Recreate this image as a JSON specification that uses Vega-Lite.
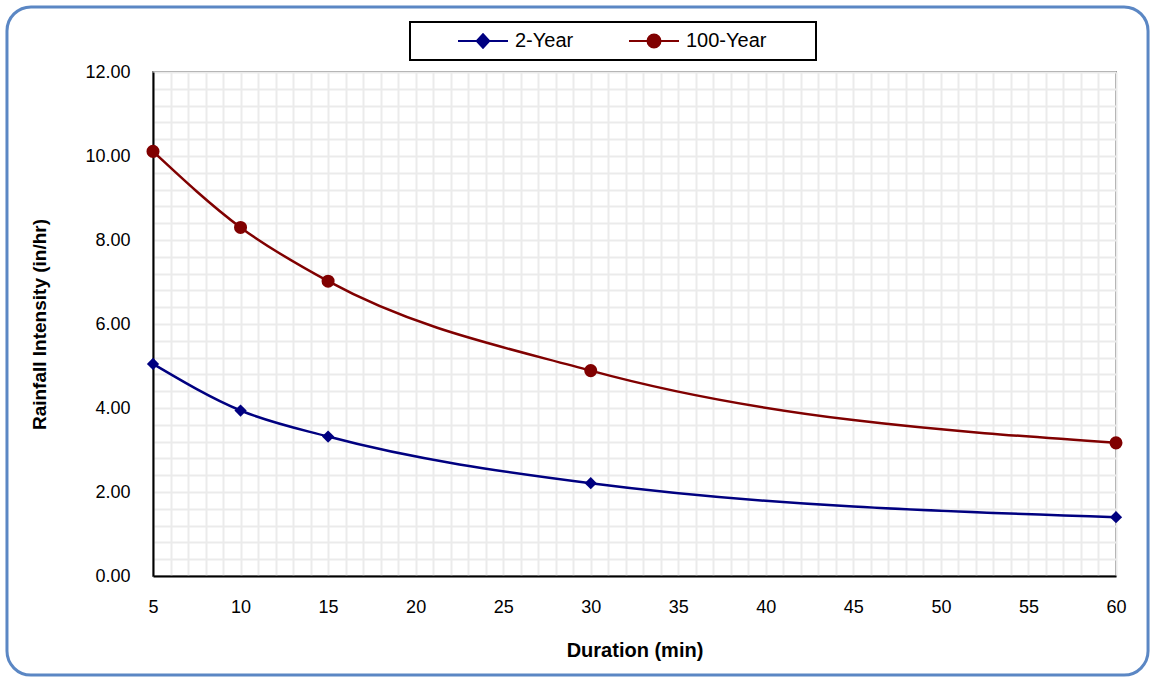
{
  "$schema": "https://vega.github.io/schema/vega-lite/v6.json",
  "width": 963,
  "height": 504,
  "autosize": {"type": "none"},
  "padding": {"left": 153, "top": 72, "right": 35, "bottom": 101},
  "background": "white",
  "config": {
    "view": {"stroke": "#808080", "strokeWidth": 2},
    "font": "Liberation Sans",
    "axis": {
      "grid": true,
      "gridColor": "#ebebeb",
      "gridWidth": 2,
      "ticks": false,
      "domainColor": "black",
      "domainWidth": 2,
      "labelFont": "Liberation Sans",
      "labelFontSize": 18,
      "labelColor": "black",
      "labelFlush": false,
      "labelOverlap": false,
      "titleFont": "Liberation Sans",
      "titleFontWeight": "bold",
      "titleColor": "black"
    }
  },
  "data": {
    "values": [
      {"duration": 5, "intensity": 5.05, "series": "2-Year"},
      {"duration": 10, "intensity": 3.94, "series": "2-Year"},
      {"duration": 15, "intensity": 3.32, "series": "2-Year"},
      {"duration": 30, "intensity": 2.21, "series": "2-Year"},
      {"duration": 60, "intensity": 1.40, "series": "2-Year"},
      {"duration": 5, "intensity": 10.11, "series": "100-Year"},
      {"duration": 10, "intensity": 8.30, "series": "100-Year"},
      {"duration": 15, "intensity": 7.02, "series": "100-Year"},
      {"duration": 30, "intensity": 4.89, "series": "100-Year"},
      {"duration": 60, "intensity": 3.17, "series": "100-Year"}
    ]
  },
  "layer": [
    {
      "data": {"values": [{"frame": "outer"}]},
      "mark": {"type": "rect", "fill": null, "stroke": "#5b87c4", "strokeWidth": 3, "cornerRadius": 24, "clip": false},
      "encoding": {
        "x": {
          "datum": -3.34, "type": "quantitative",
          "scale": {"domain": [5, 60], "nice": false, "zero": false},
          "axis": {
            "title": "Duration (min)",
            "values": [5,6,7,8,9,10,11,12,13,14,15,16,17,18,19,20,21,22,23,24,25,26,27,28,29,30,31,32,33,34,35,36,37,38,39,40,41,42,43,44,45,46,47,48,49,50,51,52,53,54,55,56,57,58,59,60],
            "tickCount": 200,
            "format": "d",
            "labelExpr": "datum.value % 5 === 0 ? datum.label : ''",
            "labelPadding": 22,
            "titleFontSize": 20,
            "titlePadding": 24
          }
        },
        "x2": {"datum": 61.83},
        "y": {
          "datum": 13.55, "type": "quantitative",
          "scale": {"domain": [0, 12], "nice": false},
          "axis": {
            "title": "Rainfall Intensity (in/hr)",
            "values": [0,0.4,0.8,1.2,1.6,2,2.4,2.8,3.2,3.6,4,4.4,4.8,5.2,5.6,6,6.4,6.8,7.2,7.6,8,8.4,8.8,9.2,9.6,10,10.4,10.8,11.2,11.6,12],
            "tickCount": 200,
            "format": ".2f",
            "labelExpr": "abs(datum.value / 2 - round(datum.value / 2)) < 0.001 ? datum.label : ''",
            "labelPadding": 23,
            "titleFontSize": 19,
            "titlePadding": 35
          }
        },
        "y2": {"datum": -2.36}
      }
    },
    {
      "mark": {"type": "line", "interpolate": "monotone", "strokeWidth": 2.5},
      "encoding": {
        "x": {
          "field": "duration",
          "type": "quantitative",
          "axis": {
            "title": "Duration (min)",
            "values": [5,6,7,8,9,10,11,12,13,14,15,16,17,18,19,20,21,22,23,24,25,26,27,28,29,30,31,32,33,34,35,36,37,38,39,40,41,42,43,44,45,46,47,48,49,50,51,52,53,54,55,56,57,58,59,60],
            "tickCount": 200,
            "format": "d",
            "labelExpr": "datum.value % 5 === 0 ? datum.label : ''",
            "labelPadding": 22,
            "titleFontSize": 20,
            "titlePadding": 24
          }
        },
        "y": {
          "field": "intensity",
          "type": "quantitative",
          "axis": {
            "title": "Rainfall Intensity (in/hr)",
            "values": [0,0.4,0.8,1.2,1.6,2,2.4,2.8,3.2,3.6,4,4.4,4.8,5.2,5.6,6,6.4,6.8,7.2,7.6,8,8.4,8.8,9.2,9.6,10,10.4,10.8,11.2,11.6,12],
            "tickCount": 200,
            "format": ".2f",
            "labelExpr": "abs(datum.value / 2 - round(datum.value / 2)) < 0.001 ? datum.label : ''",
            "labelPadding": 23,
            "titleFontSize": 19,
            "titlePadding": 35
          }
        },
        "color": {
          "field": "series",
          "type": "nominal",
          "scale": {"domain": ["2-Year", "100-Year"], "range": ["#000080", "#800000"]},
          "legend": {
            "title": "\u00a0",
            "titleOrient": "right",
            "titlePadding": 41,
            "titleFontSize": 20,
            "orient": "none",
            "direction": "horizontal",
            "legendX": 257,
            "legendY": -50,
            "padding": 9,
            "clipHeight": 20,
            "strokeColor": "black",
            "fillColor": "white",
            "symbolSize": 2500,
            "symbolType": "M-1,0H1M0.25,0A0.25,0.25,0,1,1,-0.25,0A0.25,0.25,0,1,1,0.25,0Z",
            "symbolStrokeWidth": 2,
            "symbolOffset": 38,
            "labelOffset": 6,
            "columnPadding": 16,
            "labelFont": "Liberation Sans",
            "labelFontSize": 20,
            "labelColor": "black",
            "encode": {
              "legend": {"update": {"strokeWidth": {"value": 2}}},
              "symbols": {
                "update": {
                  "shape": {"signal": "datum.value === '2-Year' ? 'M-1,0H1M0,-0.27L0.25,0L0,0.27L-0.25,0Z' : 'M-1,0H1M0.26,0A0.26,0.26,0,1,1,-0.26,0A0.26,0.26,0,1,1,0.26,0Z'"},
                  "fill": {"scale": "color", "field": "value"},
                  "stroke": {"scale": "color", "field": "value"},
                  "strokeWidth": {"value": 2},
                  "opacity": {"value": 1},
                  "fillOpacity": {"value": 1}
                }
              }
            }
          }
        }
      }
    },
    {
      "transform": [{"filter": "datum.series === '2-Year'"}],
      "mark": {"type": "point", "filled": true, "size": 150, "opacity": 1, "shape": "diamond"},
      "encoding": {
        "x": {"field": "duration", "type": "quantitative"},
        "y": {"field": "intensity", "type": "quantitative"},
        "color": {"field": "series", "type": "nominal"}
      }
    },
    {
      "transform": [{"filter": "datum.series === '100-Year'"}],
      "mark": {"type": "point", "filled": true, "size": 170, "opacity": 1, "shape": "circle"},
      "encoding": {
        "x": {"field": "duration", "type": "quantitative"},
        "y": {"field": "intensity", "type": "quantitative"},
        "color": {"field": "series", "type": "nominal"}
      }
    }
  ]
}
